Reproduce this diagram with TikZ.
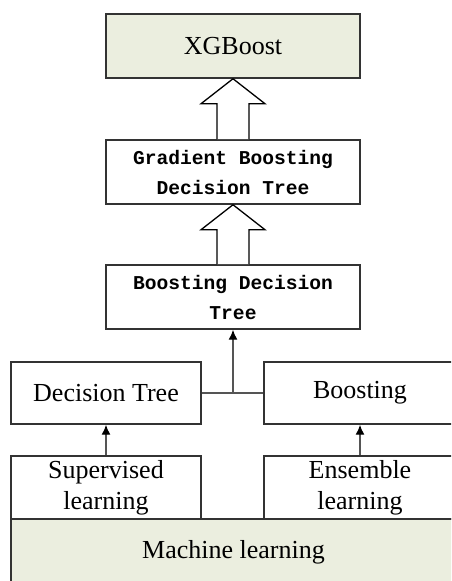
\documentclass[tikz,border=0pt]{standalone}
\usepackage{fontspec}
\setmainfont{Liberation Serif}
\newfontfamily\gbmono{Liberation Mono}
\usetikzlibrary{arrows.meta}
\definecolor{xgfill}{HTML}{EBEEDF}
\definecolor{xgline}{HTML}{333333}
\definecolor{xglink}{HTML}{555555}
\tikzset{
  stage/.style={rectangle, draw=xgline, line width=1.5pt, fill=white, align=center,
                font=\fontsize{26}{31}\selectfont, inner sep=0pt},
  stagem/.style={stage, font=\gbmono\bfseries\fontsize{19.6}{30}\selectfont},
  basebox/.style={stage, fill=xgfill},
  hollow/.style={draw=black, line width=1.3pt, fill=white, line join=miter},
  link/.style={draw=xglink, line width=1.4pt},
  linkarr/.style={link, -{Latex[length=10pt, width=9pt, color=black]}},
}
\begin{document}
\begin{tikzpicture}[x=1pt, y=1pt]
  \clip (0,0) rectangle (451,581);
  \fill[white] (0,0) rectangle (451,581);
  % boxes
  \node[basebox, minimum width=254pt, minimum height=64pt] (xgb) at (233,535) {XGBoost};
  \node[stagem, minimum width=254pt, minimum height=64pt] (gbdt) at (233,409) {Gradient Boosting\\Decision Tree};
  \node[stagem, minimum width=254pt, minimum height=64pt] (bdt) at (233,284) {Boosting Decision\\Tree};
  \node[stage, minimum width=190pt, minimum height=62pt] (dt) at (106,188) {Decision Tree};
  \node[stage, minimum width=192pt, minimum height=62pt] (boost) at (360,188) {Boosting};
  \node[stage, minimum width=190pt, minimum height=63pt] (sup) at (106,93.5) {Supervised\\learning};
  \node[stage, minimum width=192pt, minimum height=63pt] (ens) at (360,93.5) {Ensemble\\learning};
  \node[basebox, minimum width=445pt, minimum height=66pt] (ml) at (233.5,29) {Machine learning};
  % hollow arrows
  \foreach \from/\to in {gbdt/xgb, bdt/gbdt}{
    \draw[hollow] ([xshift=-16pt]\from.north) |- ([xshift=-32pt, yshift=-25pt]\to.south)
      -- (\to.south) -- ([xshift=32pt, yshift=-25pt]\to.south) -| ([xshift=16pt]\from.north);
  }
  % thin connectors
  \coordinate (jn) at (bdt.south |- dt.east);
  \draw[link] (dt.east) -- (boost.west);
  \draw[linkarr] (jn) -- (bdt.south);
  \draw[linkarr] (sup) -- (dt);
  \draw[linkarr] (ens) -- (boost);
\end{tikzpicture}
\end{document}
